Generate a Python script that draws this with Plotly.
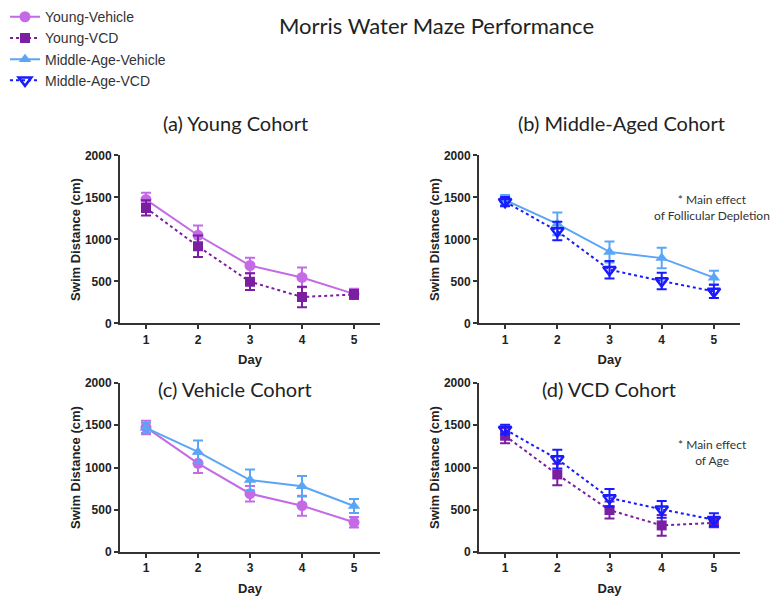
import plotly.graph_objects as go

# Training days
days = [1, 2, 3, 4, 5]

# Mean swim distance (cm) and SEM per group
young_vehicle = [1475, 1050, 690, 548, 352]
young_vehicle_err = [80, 115, 92, 118, 62]

young_vcd = [1376, 918, 497, 315, 345]
young_vcd_err = [90, 128, 100, 122, 52]

mid_vehicle = [1470, 1185, 852, 778, 545]
mid_vehicle_err = [60, 135, 125, 122, 82]

mid_vcd = [1450, 1100, 640, 505, 382]
mid_vcd_err = [55, 110, 105, 98, 78]

y_ticks = [0, 500, 1000, 1500, 2000]

series = {
    "Young-Vehicle": dict(y=young_vehicle, e=young_vehicle_err, color="#c46ae6",
                          symbol="circle", dash="solid", size=11),
    "Young-VCD": dict(y=young_vcd, e=young_vcd_err, color="#7b1fa2",
                      symbol="square", dash="dot", size=10),
    "Middle-Age-Vehicle": dict(y=mid_vehicle, e=mid_vehicle_err, color="#5aa6f5",
                               symbol="triangle-up", dash="solid", size=11),
    "Middle-Age-VCD": dict(y=mid_vcd, e=mid_vcd_err, color="#1a1aff",
                           symbol="triangle-down-open", dash="dot", size=11),
}

panels = [
    ("(a) Young Cohort", ["Young-Vehicle", "Young-VCD"]),
    ("(b) Middle-Aged Cohort", ["Middle-Age-Vehicle", "Middle-Age-VCD"]),
    ("(c) Vehicle Cohort", ["Young-Vehicle", "Middle-Age-Vehicle"]),
    ("(d) VCD Cohort", ["Young-VCD", "Middle-Age-VCD"]),
]

W, H = 771, 602
xdoms = [[120 / W, 380 / W], [479 / W, 740 / W]]
ydoms = [[1 - 324 / H, 1 - 152 / H], [1 - 558 / H, 1 - 385 / H]]

fig = go.Figure()
shown = set()
legend_order = ["Young-Vehicle", "Young-VCD", "Middle-Age-Vehicle", "Middle-Age-VCD"]

for i, (title, names) in enumerate(panels):
    ax = "" if i == 0 else str(i + 1)
    for name in names:
        s = series[name]
        fig.add_trace(go.Scatter(
            x=days, y=s["y"], name=name, mode="lines+markers",
            xaxis="x" + ax, yaxis="y" + ax,
            line=dict(color=s["color"], width=2, dash=s["dash"]),
            marker=dict(symbol=s["symbol"], size=s["size"], color=s["color"],
                        line=dict(color=s["color"], width=2.5 if "open" in s["symbol"] else 0)),
            error_y=dict(type="data", array=s["e"], color=s["color"], thickness=2, width=5),
            showlegend=name not in shown,
            legendrank=legend_order.index(name),
        ))
        shown.add(name)

axis_font = dict(family="Liberation Sans, Arial", size=12, color="#222222")
title_font = dict(family="Liberation Sans, Arial", size=13, color="#222222")

layout = dict(
    width=W, height=H,
    margin=dict(l=0, r=0, t=0, b=0),
    paper_bgcolor="white", plot_bgcolor="white",
    showlegend=True,
    legend=dict(x=5 / W, y=1 + 6 / H, xanchor="left", yanchor="top",
                font=dict(family="Liberation Sans, Arial", size=14, color="#333333"),
                tracegroupgap=0, itemwidth=30, bgcolor="rgba(0,0,0,0)"),
    annotations=[],
)

for i in range(4):
    col, row = i % 2, i // 2
    ax = "" if i == 0 else str(i + 1)
    layout["xaxis" + ax] = dict(
        domain=xdoms[col], range=[0.5, 5.5], tickvals=days,
        ticktext=["<b>%d</b>" % d for d in days],
        showline=True, linecolor="#333333", linewidth=2, ticks="outside",
        ticklen=4, tickwidth=2, tickcolor="#333333", showgrid=False, zeroline=False,
        tickfont=axis_font,
        title=dict(text="<b>Day</b>", font=title_font, standoff=9),
        anchor="y" + ax,
    )
    layout["yaxis" + ax] = dict(
        domain=ydoms[row], range=[0, 2000], tickvals=y_ticks,
        ticktext=["<b>%d</b>" % v for v in y_ticks],
        showline=True, linecolor="#333333", linewidth=2, ticks="outside",
        ticklen=4, tickwidth=2, tickcolor="#333333", showgrid=False, zeroline=False,
        tickfont=axis_font,
        title=dict(text="<b>Swim Distance (cm)</b>", font=title_font, standoff=1),
        anchor="x" + ax,
    )

panel_title_font = dict(family="Lato, Open Sans", size=20, color="#222222")
title_pos = [(235, 119), (621, 119), (235, 391), (609, 391)]
for (title, _), (px, py) in zip(panels, title_pos):
    layout["annotations"].append(dict(
        text=title, x=px / W, y=1 - py / H, xref="paper", yref="paper",
        xanchor="center", yanchor="middle", showarrow=False, font=panel_title_font))

layout["annotations"].append(dict(
    text="Morris Water Maze Performance", x=436 / W, y=1 - 19 / H,
    xref="paper", yref="paper", xanchor="center", yanchor="middle",
    showarrow=False, font=dict(family="Lato, Open Sans", size=22, color="#222222")))

note_font = dict(family="Lato, Open Sans", size=12, color="#333333")
layout["annotations"].append(dict(
    text="* Main effect<br>of Follicular Depletion", x=712 / W, y=1 - 205 / H,
    xref="paper", yref="paper", xanchor="center", yanchor="middle",
    showarrow=False, font=note_font, align="center"))
layout["annotations"].append(dict(
    text="* Main effect<br>of Age", x=712 / W, y=1 - 456 / H,
    xref="paper", yref="paper", xanchor="center", yanchor="middle",
    showarrow=False, font=note_font, align="center"))

fig.update_layout(**layout)
fig.write_html("out.html")
